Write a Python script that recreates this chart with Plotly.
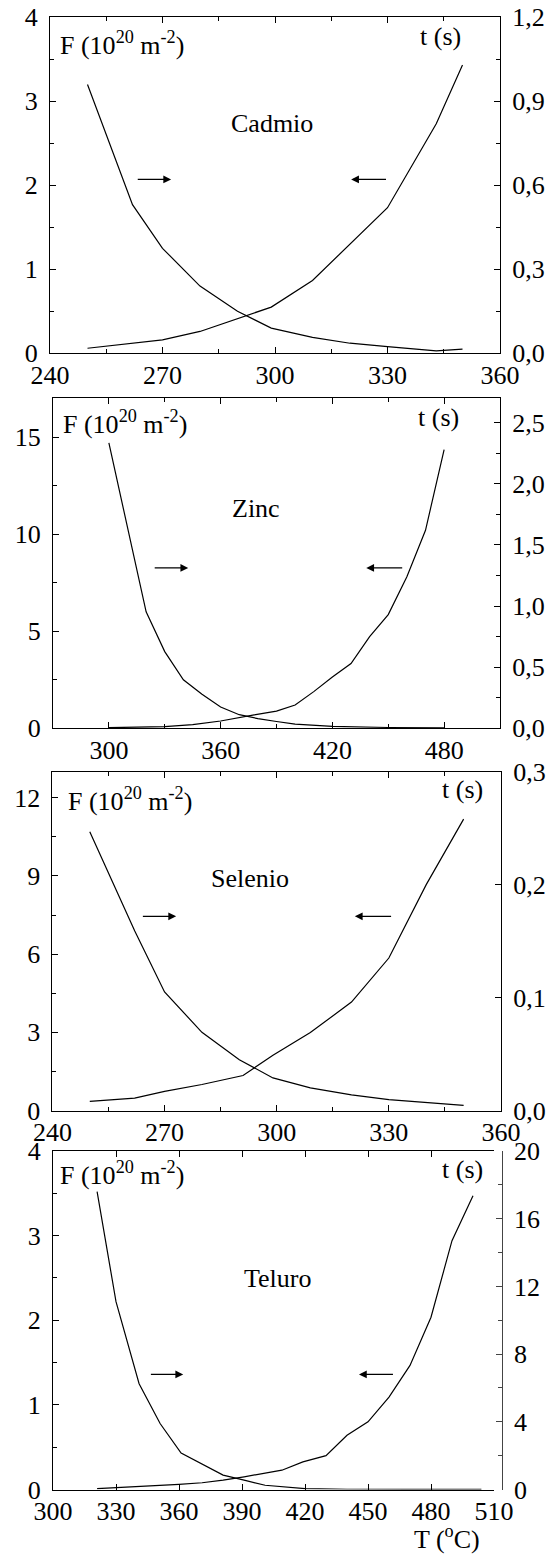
import plotly.graph_objects as go

# ---------------- data ----------------
# Cadmio
T_cd_F = [250, 262, 270, 280, 290, 299, 310, 320, 330, 343, 350]
F_cd = [3.20, 1.77, 1.25, 0.80, 0.50, 0.30, 0.19, 0.12, 0.08, 0.03, 0.05]
T_cd_t = [250, 270, 280, 299, 310, 320, 330, 343, 350]
t_cd = [0.018, 0.048, 0.078, 0.165, 0.26, 0.39, 0.52, 0.82, 1.03]

# Zinc
T_zn_F = [300, 320, 330, 340, 350, 360, 370, 380, 390, 400, 420, 450, 480]
F_zn = [14.7, 6.0, 3.95, 2.5, 1.75, 1.1, 0.7, 0.5, 0.35, 0.22, 0.1, 0.04, 0.02]
T_zn_t = [300, 330, 345, 360, 378, 390, 400, 410, 420, 430, 440, 450, 460, 470, 480]
t_zn = [0.005, 0.014, 0.03, 0.06, 0.11, 0.14, 0.19, 0.30, 0.42, 0.53, 0.75, 0.93, 1.24, 1.62, 2.28]

# Selenio
T_se_F = [250, 262, 270, 280, 290, 299, 309, 320, 330, 340, 350]
F_se = [10.7, 6.9, 4.55, 3.0, 1.95, 1.25, 0.87, 0.6, 0.42, 0.3, 0.2]
T_se_t = [250, 262, 270, 280, 291, 299, 309, 320, 330, 340, 350]
t_se = [0.008, 0.011, 0.017, 0.023, 0.031, 0.049, 0.069, 0.096, 0.135, 0.2, 0.258]

# Teluro
T_te_F = [321, 330, 341, 351, 361, 371, 381, 391, 401, 420, 440, 470, 504]
F_te = [3.52, 2.22, 1.25, 0.78, 0.43, 0.30, 0.17, 0.11, 0.05, 0.01, 0.003, 0.002, 0.002]
T_te_t = [321, 330, 360, 371, 381, 391, 409, 419, 430, 440, 450, 460, 470, 480, 490, 500]
t_te = [0.05, 0.1, 0.3, 0.4, 0.55, 0.75, 1.14, 1.63, 2.0, 3.2, 4.0, 5.46, 7.33, 10.18, 14.7, 17.36]

names = ["Cadmio", "Zinc", "Selenio", "Teluro"]

# ---------------- layout geometry (pixels) ----------------
W, H = 547, 1554
frames = [  # x0, x1, ytop, ybottom
    (50.0, 500.0, 17.3, 353.3),
    (53.0, 500.0, 398.3, 728.3),
    (52.4, 501.0, 771.7, 1110.5),
    (53.0, 494.0, 1151.0, 1489.5),
]
RIGHT4 = 501.7

FONT = "Liberation Serif, Times New Roman, DejaVu Serif, serif"
fs = 26
black = "#000000"

fig = go.Figure()

series = [
    (T_cd_F, F_cd, T_cd_t, t_cd),
    (T_zn_F, F_zn, T_zn_t, t_zn),
    (T_se_F, F_se, T_se_t, t_se),
    (T_te_F, F_te, T_te_t, t_te),
]

for i, (tf, fv, tt, tv) in enumerate(series):
    n = i + 1
    xa = "x" if n == 1 else f"x{n}"
    ya = f"y{2*n-1}" if n > 1 else "y"
    yb = f"y{2*n}"
    fig.add_trace(go.Scatter(x=tf, y=fv, mode="lines", xaxis=xa, yaxis=ya,
                             line=dict(color=black, width=1.2), showlegend=False))
    fig.add_trace(go.Scatter(x=tt, y=tv, mode="lines", xaxis=xa, yaxis=yb,
                             line=dict(color=black, width=1.2), showlegend=False))

xranges = [(240, 360), (270, 510), (240, 360), (300, 510)]
xticks = [(240, 30, 15), (300, 60, 30), (240, 30, 15), (300, 30, None)]
lranges = [(0, 4), (0, 17), (0, 13), (0, 4)]
lticks = [(1, 0.5), (5, 2.5), (3, 1.5), (1, 0.5)]
rranges = [(0, 1.2), (0, 2.7), (0, 0.3), (0, 20)]
rticks = [(0.3, 0.15, ".1f"), (0.5, 0.25, ".1f"), (0.1, None, ".1f"), (4, 2, "d")]

layout = dict(
    template="none",
    width=W, height=H, margin=dict(l=0, r=0, t=0, b=0, autoexpand=False),
    paper_bgcolor="white", plot_bgcolor="white",
    font=dict(family=FONT, size=fs, color=black),
    separators=",.",
)

def dom_x(a, b):
    return [a / W, b / W]

def dom_y(top, bot):
    return [1 - bot / H, 1 - top / H]

for i in range(4):
    n = i + 1
    x0, x1, yt, yb_ = frames[i]
    xkey = "xaxis" if n == 1 else f"xaxis{n}"
    lkey = "yaxis" if n == 1 else f"yaxis{2*n-1}"
    rkey = f"yaxis{2*n}"
    xname = "x" if n == 1 else f"x{n}"
    lname = "y" if n == 1 else f"y{2*n-1}"
    t0, dt, mdt = xticks[i]
    xa = dict(domain=dom_x(x0, x1), range=list(xranges[i]), anchor=lname,
              tick0=t0, dtick=dt, ticks="inside", ticklen=6, tickwidth=1,
              tickcolor=black, showline=True, linecolor=black, linewidth=1,
              mirror="ticks", showgrid=False, zeroline=False, automargin=False,
              tickfont=dict(family=FONT, size=fs), ticklabelstandoff=-2)
    if mdt:
        xa["minor"] = dict(ticks="inside", ticklen=4, dtick=mdt, tick0=t0, tickcolor=black, showgrid=False)
    layout[xkey] = xa
    ld, lm = lticks[i]
    layout[lkey] = dict(domain=dom_y(yt, yb_), range=list(lranges[i]), anchor=xname,
                        dtick=ld, tick0=0, ticks="inside", ticklen=6, tickcolor=black,
                        showline=True, linecolor=black, linewidth=1, showgrid=False,
                        zeroline=False, automargin=False,
                        tickfont=dict(family=FONT, size=fs),
                        ticklabelstandoff=6,
                        minor=dict(ticks="inside", ticklen=4, dtick=lm, tick0=0,
                                   tickcolor=black, showgrid=False))
    rd, rm, rf = rticks[i]
    ra = dict(range=list(rranges[i]), overlaying=lname, side="right",
              dtick=rd, tick0=0, ticks="inside", ticklen=6, tickcolor=black,
              showline=True, linecolor=black, linewidth=1, showgrid=False,
              zeroline=False, automargin=False, tickformat=rf,
              tickfont=dict(family=FONT, size=fs), ticklabelstandoff=6)
    if n == 4:
        ra["anchor"] = "free"
        ra["position"] = RIGHT4 / W
        ra["linecolor"] = "#444444"
        ra["tickcolor"] = "#444444"
    else:
        ra["anchor"] = xname
    if rm:
        ra["minor"] = dict(ticks="inside", ticklen=4, dtick=rm, tick0=0,
                           tickcolor=ra["tickcolor"], showgrid=False)
    layout[rkey] = ra

fig.update_layout(**layout)

# ---------------- annotations ----------------
ann = []
Flabel = "F (10<sup>20</sup> m<sup>-2</sup>)"
Fpos = [(242, 3.69), (274.1, 15.77), (243.7, 11.94), (302.2, 3.74)]
tpos = [(350, 3.77), (488.8, 16.03), (355.6, 12.32), (505.9, 3.78)]
npos = [(299.3, 2.74), (378.8, 11.3), (292.9, 8.92), (407, 2.49)]
# arrows: (tail_x, head_x, y) for right- and left-pointing
arr_r = [(263, 272.3, 2.07), (323.8, 342.6, 8.26), (263.8, 273.1, 7.45), (345.9, 362, 1.36)]
arr_l = [(330, 320.3, 2.07), (458.3, 438.2, 8.26), (331, 320.9, 7.45), (462.6, 445.7, 1.36)]

for i in range(4):
    n = i + 1
    xr = "x" if n == 1 else f"x{n}"
    yr = "y" if n == 1 else f"y{2*n-1}"
    ann.append(dict(x=Fpos[i][0], y=Fpos[i][1], xref=xr, yref=yr, text=Flabel,
                    showarrow=False, xanchor="left", yanchor="middle",
                    font=dict(family=FONT, size=26)))
    ann.append(dict(x=tpos[i][0], y=tpos[i][1], xref=xr, yref=yr, text="t (s)",
                    showarrow=False, xanchor="right", yanchor="middle",
                    font=dict(family=FONT, size=26)))
    ann.append(dict(x=npos[i][0], y=npos[i][1], xref=xr, yref=yr, text=names[i],
                    showarrow=False, xanchor="center", yanchor="middle",
                    font=dict(family=FONT, size=26)))
    for (tx, hx, yy) in (arr_r[i], arr_l[i]):
        ann.append(dict(x=hx, y=yy, ax=tx, ay=yy, xref=xr, yref=yr, axref=xr, ayref=yr,
                        text="", showarrow=True, arrowhead=2, arrowsize=1.3,
                        arrowwidth=1.2, arrowcolor=black))

ann.append(dict(x=447 / W, y=1 - 1537 / H, xref="paper", yref="paper",
                text="T (<sup>o</sup>C)", showarrow=False, xanchor="center",
                yanchor="middle", font=dict(family=FONT, size=26)))

fig.update_layout(annotations=ann)

fig.write_html("out.html",
               config={"displayModeBar": False},
               post_script="document.body.style.margin='0';document.body.style.overflow='hidden';")
